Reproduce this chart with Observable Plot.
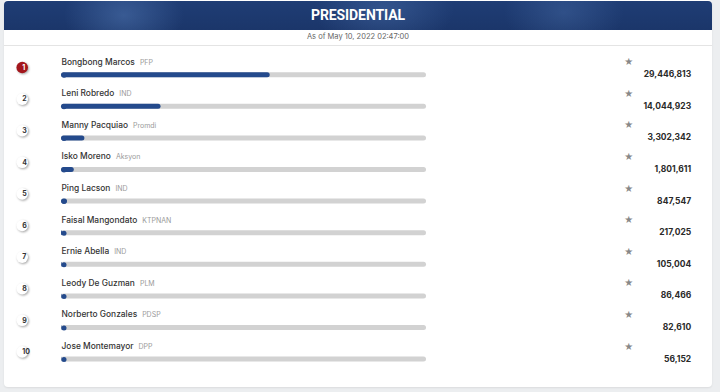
<!DOCTYPE html>
<html>
<head>
<meta charset="utf-8">
<script src="https://cdn.jsdelivr.net/npm/d3@7"></script>
<script src="https://cdn.jsdelivr.net/npm/@observablehq/plot@0.6"></script>
<style>
  html, body { margin: 0; padding: 0; }
  body { width: 720px; height: 392px; background: #eceef0; position: relative; overflow: hidden; font-family: Inter, "Noto Sans", sans-serif; }
  #card { position: absolute; left: 4px; top: 0; width: 708px; height: 387px; background: #fff; border-radius: 4px; box-shadow: 0 1px 2px rgba(0,0,0,0.08); }
  #hdr { position: absolute; left: 4px; top: 1px; width: 708px; height: 29px; border-radius: 4px 4px 0 0;
    background:
      radial-gradient(ellipse 60px 40px at 120px 50%, rgba(90,130,190,0.45), rgba(90,130,190,0) 100%),
      radial-gradient(ellipse 70px 40px at 380px 30%, rgba(90,130,190,0.35), rgba(90,130,190,0) 100%),
      radial-gradient(ellipse 60px 40px at 560px 40%, rgba(90,130,190,0.3), rgba(90,130,190,0) 100%),
      linear-gradient(180deg, #1f3d75, #1b366a);
    color: #fff; text-align: center; font-family: Roboto, "Liberation Sans", sans-serif; font-weight: 700; font-size: 14px; line-height: 29px; letter-spacing: -0.1px; }
  #sub { position: absolute; left: 4px; top: 30px; width: 708px; height: 15px; border-bottom: 1px solid #e4e4e4; text-align: center; font-size: 7.5px; line-height: 14px; color: #666; }
  #chart { position: absolute; left: 0; top: 46px; }
  #chart svg { overflow: visible; }
  .rankdot circle { filter: drop-shadow(1px 1.5px 1px rgba(0,0,0,0.35)); }
</style>
</head>
<body>
<div id="card"></div>
<div id="hdr">PRESIDENTIAL</div>
<div id="sub">As of May 10, 2022 02:47:00</div>
<div id="chart"></div>
<script>
const ranks = [1, 2, 3, 4, 5, 6, 7, 8, 9, 10];
const names = ["Bongbong Marcos", "Leni Robredo", "Manny Pacquiao", "Isko Moreno", "Ping Lacson",
  "Faisal Mangondato", "Ernie Abella", "Leody De Guzman", "Norberto Gonzales", "Jose Montemayor"];
const parties = ["PFP", "IND", "Promdi", "Aksyon", "IND", "KTPNAN", "IND", "PLM", "PDSP", "DPP"];
const votes = [29446813, 14044923, 3302342, 1801611, 847547, 217025, 105004, 86466, 82610, 56152];
const barScaleMax = 51500000; // estimated full-bar value

const data = names.map((n, i) => ({rank: ranks[i], name: n, party: parties[i], votes: votes[i], full: barScaleMax}));

const step = 31.6;
const barH = 5;
const barOff = 7.7;
const insetTop = step / 2 + barOff - barH / 2;
const insetBottom = step / 2 - barOff - barH / 2;
const blue = "#244a8c";

const chart = Plot.plot({
  width: 720,
  height: 341,
  marginLeft: 61,
  marginRight: 294,
  marginTop: 5.2,
  marginBottom: 19.8,
  x: {domain: [0, barScaleMax], axis: null},
  y: {domain: names, axis: null, padding: 0, round: false},
  style: {fontFamily: "Inter, 'Noto Sans', sans-serif", background: "transparent", overflow: "visible"},
  marks: [
    Plot.barX(data, {y: "name", x1: 0, x2: "full", fill: "#d2d2d2", rx: 2.5, insetTop, insetBottom}),
    Plot.barX(data, {y: "name", x1: 0, x2: "votes", fill: blue, rx: 2.5, insetTop, insetBottom}),
    Plot.dot(data, {y: "name", x: 0, r: 2.5, fill: blue, dx: 2.5, dy: barOff}),
    Plot.text(data, {y: "name", x: 0, text: "name", textAnchor: "start", dy: -5.7, fontSize: 8.4, fontWeight: 500, fill: "#333"}),
    Plot.dot(data, {y: "name", frameAnchor: "left", dx: -39.3, r: 5.8, fill: d => d.rank === 1 ? "#a3161c" : "#fff", className: "rankdot"}),
    Plot.text(data, {y: "name", frameAnchor: "left", dx: -39.3, text: d => String(d.rank), fontSize: 7, fontWeight: 700, fill: d => d.rank === 1 ? "#fff" : "#333"}),
    Plot.text(data, {y: "name", frameAnchor: "right", dx: 206.7, dy: -5.5, text: () => "\u2605", fontSize: 10, fill: "#888", fontFamily: "DejaVu Sans"}),
    Plot.text(data, {y: "name", frameAnchor: "right", dx: 264.7, dy: 7, text: d => d3.format(",")(d.votes), textAnchor: "end", fontSize: 8.5, fontWeight: 700, fill: "#2a2a2a"})
  ]
});

// append party labels after each candidate name
const partyOf = new Map(data.map(d => [d.name, d.party]));
chart.querySelectorAll("text").forEach(t => {
  const p = partyOf.get(t.textContent);
  if (p) {
    const ts = document.createElementNS("http://www.w3.org/2000/svg", "tspan");
    ts.setAttribute("dx", "5");
    ts.setAttribute("font-size", "7");
    ts.setAttribute("font-weight", "400");
    ts.setAttribute("fill", "#9a9a9a");
    ts.textContent = p;
    t.appendChild(ts);
  }
});

document.getElementById("chart").appendChild(chart);
</script>
</body>
</html>
